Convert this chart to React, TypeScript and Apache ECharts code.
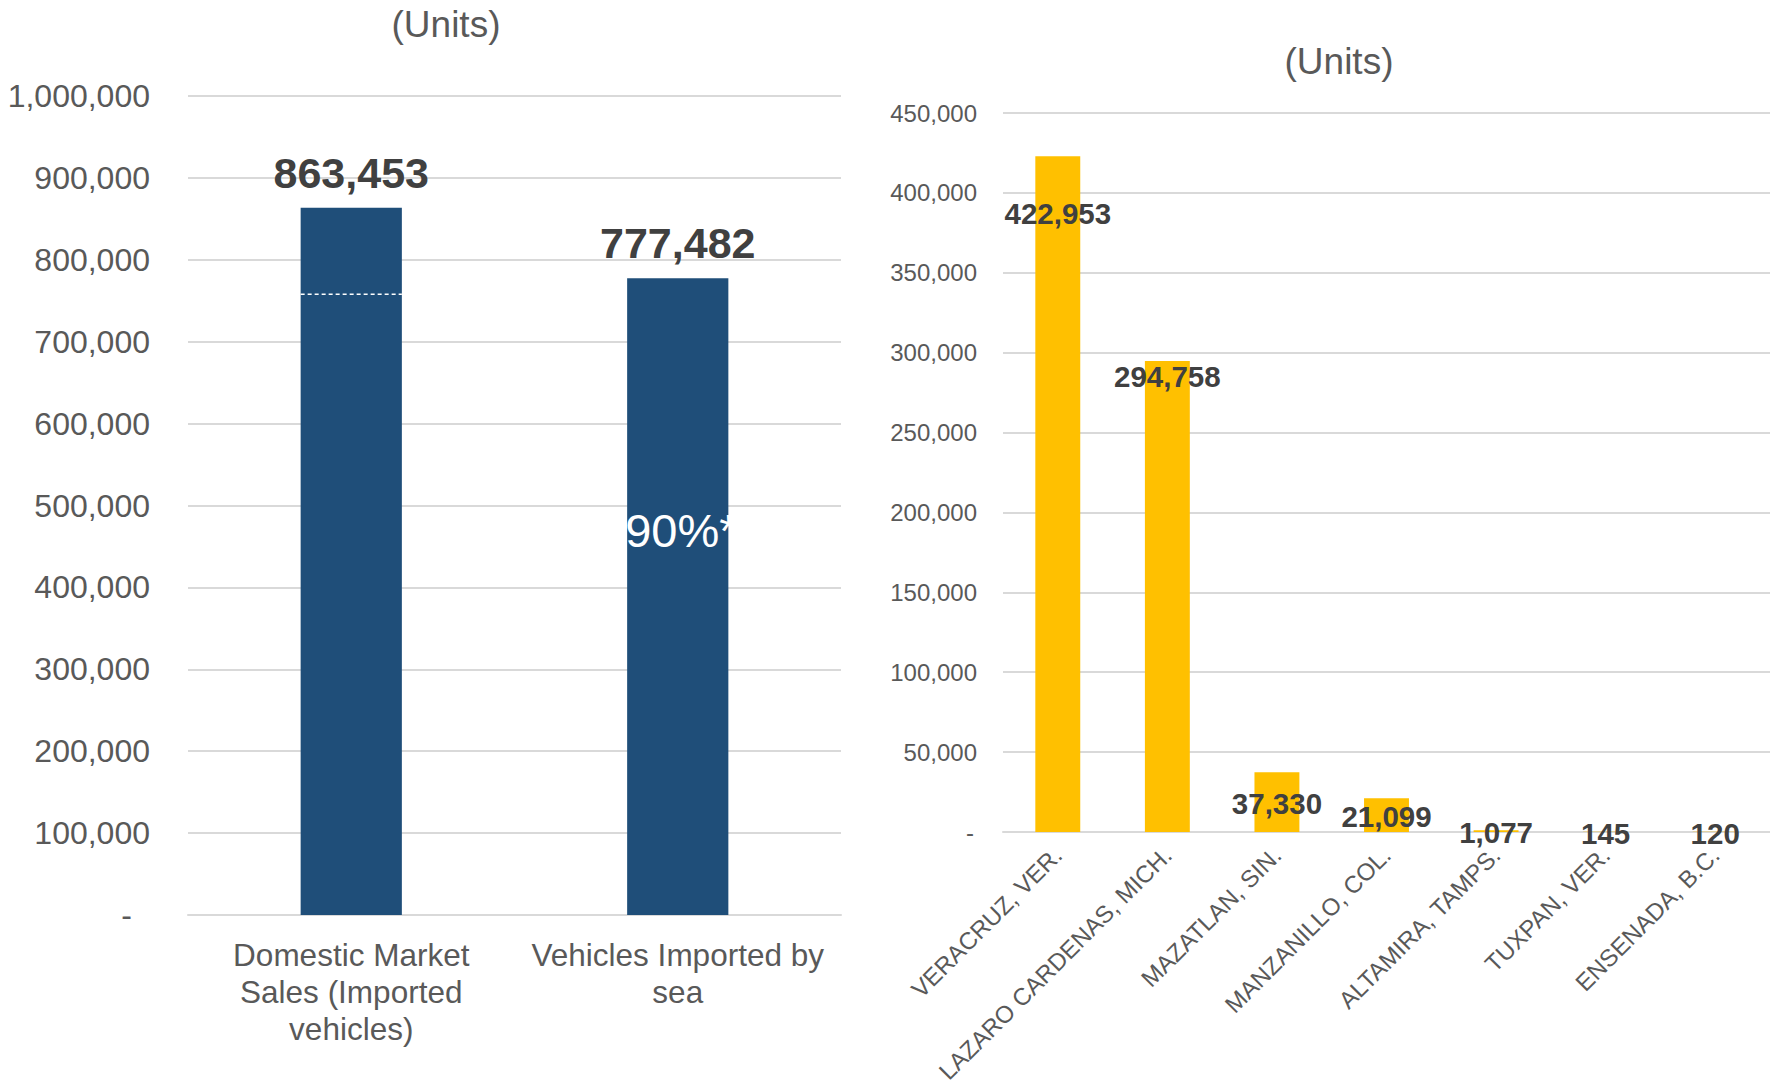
import React, { useEffect, useRef } from "react";
import * as echarts from "echarts";

// ---------- data ----------
const TITLE = "(Units)";

const LEFT_CATEGORIES = [
  "Domestic Market\nSales (Imported\nvehicles)",
  "Vehicles Imported by\nsea",
];
const LEFT_VALUES = [863453, 777482];
const LEFT_REFERENCE_VALUE = 758000; // dashed line inside first bar
const LEFT_SHARE_LABEL = "90%*";
const LEFT_Y_MIN = 0;
const LEFT_Y_MAX = 1000000;
const LEFT_Y_INTERVAL = 100000;

const RIGHT_CATEGORIES = [
  "VERACRUZ, VER.",
  "LAZARO CARDENAS, MICH.",
  "MAZATLAN, SIN.",
  "MANZANILLO, COL.",
  "ALTAMIRA, TAMPS.",
  "TUXPAN, VER.",
  "ENSENADA, B.C.",
];
const RIGHT_VALUES = [422953, 294758, 37330, 21099, 1077, 145, 120];
const RIGHT_Y_MIN = 0;
const RIGHT_Y_MAX = 450000;
const RIGHT_Y_INTERVAL = 50000;

// ---------- styles ----------
const FONT = "'Liberation Sans', Arial, Helvetica, sans-serif";
const AXIS_TEXT = "#595959";
const LABEL_TEXT = "#404040";
const GRID_LINE = "#D9D9D9";
const BLUE = "#1F4E79";
const GOLD = "#FFC000";
const RIGHT_LABEL_DY = [57, 15, 31, 18, 2, 2, 2]; // label centre below bar top (px)

const fmt = (v: number) =>
  String(Math.round(v)).replace(/\B(?=(\d{3})+(?!\d))/g, ",");

export default function App() {
  const ref = useRef<HTMLDivElement>(null);

  useEffect(() => {
    if (!ref.current) return;
    const chart = echarts.init(ref.current, undefined, { renderer: "svg" });

    const option: any = {
      animation: false,
      backgroundColor: "#ffffff",
      textStyle: { fontFamily: FONT },
      graphic: [
        {
          type: "text",
          x: 446,
          y: 24,
          style: {
            text: TITLE,
            align: "center",
            verticalAlign: "middle",
            fontSize: 37,
            fontFamily: FONT,
            fill: AXIS_TEXT,
          },
        },
        {
          type: "text",
          x: 1339,
          y: 61,
          style: {
            text: TITLE,
            align: "center",
            verticalAlign: "middle",
            fontSize: 37,
            fontFamily: FONT,
            fill: AXIS_TEXT,
          },
        },
      ],
      grid: [
        { left: 188, right: 929, top: 96, bottom: 174, containLabel: false, outerBoundsMode: "none" },
        { left: 1003, right: 0, top: 113, bottom: 257, containLabel: false, outerBoundsMode: "none" },
      ],
      xAxis: [
        {
          type: "category",
          gridIndex: 0,
          data: LEFT_CATEGORIES,
          axisTick: { show: false },
          axisLine: { show: true, lineStyle: { color: GRID_LINE, width: 2 } },
          axisLabel: {
            interval: 0,
            color: AXIS_TEXT,
            fontSize: 31.5,
            lineHeight: 37,
            margin: 21,
            fontFamily: FONT,
          },
        },
        {
          type: "category",
          gridIndex: 1,
          data: RIGHT_CATEGORIES,
          axisTick: { show: false },
          axisLine: { show: true, lineStyle: { color: GRID_LINE, width: 2 } },
          axisLabel: {
            interval: 0,
            rotate: 45,
            color: AXIS_TEXT,
            fontSize: 24,
            margin: 19,
            fontFamily: FONT,
          },
        },
      ],
      yAxis: [
        {
          type: "value",
          gridIndex: 0,
          min: LEFT_Y_MIN,
          max: LEFT_Y_MAX,
          interval: LEFT_Y_INTERVAL,
          axisLine: { show: false },
          axisTick: { show: false },
          splitLine: { lineStyle: { color: GRID_LINE, width: 2 } },
          axisLabel: {
            color: AXIS_TEXT,
            fontSize: 32,
            margin: 38,
            fontFamily: FONT,
            formatter: (v: number) => (v === 0 ? "{d|-}" : fmt(v)),
            rich: {
              d: { padding: [0, 18, 0, 0], fontSize: 32, color: AXIS_TEXT, fontFamily: FONT },
            },
          },
        },
        {
          type: "value",
          gridIndex: 1,
          min: RIGHT_Y_MIN,
          max: RIGHT_Y_MAX,
          interval: RIGHT_Y_INTERVAL,
          axisLine: { show: false },
          axisTick: { show: false },
          splitLine: { lineStyle: { color: GRID_LINE, width: 2 } },
          axisLabel: {
            color: AXIS_TEXT,
            fontSize: 24,
            margin: 26,
            fontFamily: FONT,
            formatter: (v: number) => (v === 0 ? "{d|-}" : fmt(v)),
            rich: {
              d: { padding: [0, 3, 0, 0], fontSize: 24, color: AXIS_TEXT, fontFamily: FONT },
            },
          },
        },
      ],
      series: [
        {
          type: "bar",
          name: "left",
          xAxisIndex: 0,
          yAxisIndex: 0,
          barWidth: "31%",
          barGap: "-100%",
          data: LEFT_VALUES,
          itemStyle: { color: BLUE },
          label: {
            show: true,
            position: ["50%", -35],
            align: "center",
            verticalAlign: "middle",
            formatter: (p: any) => fmt(p.value),
            color: LABEL_TEXT,
            fontSize: 43,
            fontWeight: "bold",
            fontFamily: FONT,
          },
        },
        {
          type: "bar",
          name: "leftShare",
          xAxisIndex: 0,
          yAxisIndex: 0,
          barWidth: "31%",
          barGap: "-100%",
          silent: true,
          data: LEFT_VALUES.map((v, i) => (i === 1 ? v : "-")),
          itemStyle: { color: "rgba(0,0,0,0)" },
          label: {
            show: true,
            position: [-2, 252],
            align: "left",
            verticalAlign: "middle",
            formatter: LEFT_SHARE_LABEL,
            color: "#ffffff",
            fontSize: 47,
            fontFamily: FONT,
          },
        },
        {
          type: "custom",
          name: "leftRef",
          xAxisIndex: 0,
          yAxisIndex: 0,
          silent: true,
          data: [[0, LEFT_REFERENCE_VALUE]],
          renderItem: (params: any, api: any) => {
            const p = api.coord([api.value(0), api.value(1)]);
            const w = api.size([1, 0])[0] * 0.31;
            return {
              type: "line",
              z2: 10,
              shape: { x1: p[0] - w / 2, y1: p[1], x2: p[0] + w / 2, y2: p[1] },
              style: { stroke: "#ffffff", lineWidth: 1.5, lineDash: [4, 3] },
            };
          },
        },
        {
          type: "bar",
          name: "right",
          xAxisIndex: 1,
          yAxisIndex: 1,
          barWidth: "41%",
          data: RIGHT_VALUES.map((v, i) => ({
            value: v,
            label: { position: ["50%", RIGHT_LABEL_DY[i]] },
          })),
          itemStyle: { color: GOLD },
          label: {
            show: true,
            align: "center",
            verticalAlign: "middle",
            formatter: (p: any) => fmt(p.value),
            color: LABEL_TEXT,
            fontSize: 29.5,
            fontWeight: "bold",
            fontFamily: FONT,
          },
        },
      ],
    };

    chart.setOption(option);
    return () => chart.dispose();
  }, []);

  return (
    <div
      ref={ref}
      style={{ position: "fixed", left: 0, top: 0, width: 1770, height: 1089, background: "#fff" }}
    />
  );
}
